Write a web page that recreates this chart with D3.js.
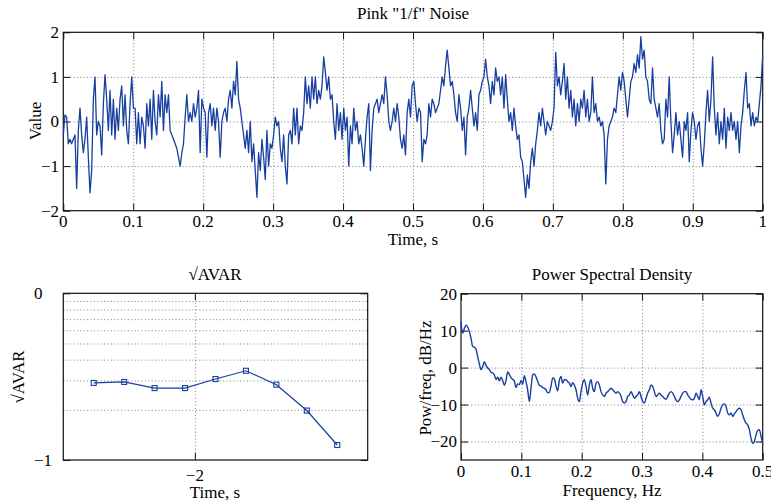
<!DOCTYPE html>
<html>
<head>
<meta charset="utf-8">
<script src="https://cdn.jsdelivr.net/npm/d3@7"></script>
<style>
  body { margin: 0; background: #fff; }
  svg text { font-family: "Liberation Serif", "Times New Roman", serif; font-size: 17px; fill: #000; }
  .grid line { stroke: #707070; stroke-width: 0.9; stroke-dasharray: 1,2.4; }
  .grid path, .ticks path { display: none; }
  .ticks line { stroke: #111; stroke-width: 1; }
</style>
</head>
<body>
<svg id="fig" width="771" height="503"></svg>
<script>
// Pink noise samples (uniform time step over 0..1 s)
const noiseValues = [
  -0.3, 0.15, 0.1, -0.5, -0.4, -0.5, -0.4, -0.3, -1.5, -0.2,
  0.3, -0.3, -0.7, -0.4, 0.1, -0.8, -1.6, -1.1, 0.5, 1.0,
  -0.3, 0.0, -0.1, -0.75, 0.4, 1.05, 0.5, -0.2, 0.7, -0.3,
  0.5, -0.4, 0.3, -0.2, 0.5, 0.8, -0.1, 0.6, -0.2, -0.5,
  0.4, 1.0, 0.3, 0.3, -0.5, 0.2, -0.5, 0.1, -0.1, -0.6,
  0.4, -0.1, 0.5, -0.4, 0.7, 0.0, -0.3, 0.6, 0.1, 0.9,
  -0.2, 0.6, 0.2, 0.6, -0.2, -0.3, -0.4, -0.5, -0.6, -0.8,
  -1.0, -0.7, -0.5, 0.1, 0.6, 0.0, 0.2, 0.0, 0.4, 0.1, 0.3, 0.7,
  -0.7, 0.5, 0.3, 0.2, -0.8, 0.2, 0.4, -0.1, 0.3, -0.2,
  0.3, 0.0, -0.8, 0.0, 0.2, 0.3, 0.0, 0.5, 0.7, 0.3,
  0.9, 0.6, 1.35, 0.5, 0.3, 0.0, -0.3, -0.6, -0.2, -0.7,
  0.0, -0.9, -0.5, -1.1, -1.7, -0.7, -1.1, -0.4, -0.8, -1.3,
  -0.2, -1.0, -0.5, -0.6, -0.3, 0.1, -0.1, 0.0, -0.6, -0.9,
  -0.3, -1.0, -1.4, -0.3, -0.2, -0.5, 0.3, -0.3, 0.3, -0.5,
  -0.1, -0.2, 0.2, 1.0, 0.4, 0.8, 0.3, 1.0, 0.5, 1.0,
  0.4, 0.7, 0.5, 0.8, 1.45, 1.1, 0.7, 1.0, 0.5, 0.6,
  0.0, -0.4, 0.4, -0.2, 0.2, -0.4, 0.3, -0.2, 0.1, -1.0,
  -0.1, -0.5, 0.3, -0.2, 0.0, -0.5, -0.3, -0.6, -1.0, -0.4,
  0.1, 0.4, -1.1, -0.2, 0.3, 0.4, 0.5, 0.2, 0.4, 0.6, 0.4, 1.0,
  0.6, 0.0, -0.2, 0.0, 0.3, 0.0, 0.4, 0.1, -0.4, -0.6,
  -0.3, -0.75, 0.2, 0.5, 0.1, 0.8, 0.9, 0.4, 0.0, 0.3,
  0.2, -0.9, -0.4, -0.5, -0.3, 0.4, 0.1, 0.5, 0.4, 0.2,
  0.3, 0.4, 0.7, 1.0, 0.8, 1.25, 1.6, 1.2, 0.8, 0.9,
  0.6, 0.2, 0.0, 0.6, 0.3, -0.2, 0.1, -0.75, 0.1, 0.3,
  0.7, 0.3, -0.1, 0.2, -0.2, 0.6, 0.7, 0.9, 1.0, 1.4,
  1.0, 0.8, 0.4, 0.9, 0.6, 1.2, 0.9, 1.0, 0.6, 1.0,
  0.3, 1.05, 0.5, 0.0, 0.2, -0.2, 0.3, -0.1, -0.4, -0.3,
  -0.8, -0.9, -1.3, -1.7, -1.2, -1.5, -0.9, -0.6, -1.0, -0.5,
  -0.2, 0.2, -0.1, 0.3, 0.0, -0.3, 0.0, -0.1, -0.2, 0.0,
  0.3, 1.55, 0.8, 1.0, 0.6, 0.9, 1.3, 0.5, 1.0, 0.3,
  0.7, 0.1, 0.5, -0.1, 0.4, 0.0, 0.5, 0.3, 0.7, 0.1,
  0.5, 0.0, 0.2, 1.0, 0.2, 0.4, 0.0, 0.1, -0.1, 0.0,
  -0.3, -1.4, -0.4, -0.1, 0.0, 0.1, 0.3, 0.2, 0.6, 1.0,
  0.7, 1.1, 0.9, 0.5, 0.1, 0.5, 0.9, 1.0, 1.3, 1.1,
  1.5, 1.2, 1.9, 1.4, 1.6, 1.0, 0.9, 0.5, 0.4, 1.2,
  0.5, 0.3, 0.1, 0.4, -0.2, -0.5, -0.4, 0.5, 0.1, 1.0,
  0.0, -0.7, -0.3, 0.2, -0.3, 0.0, -0.4, -0.8, 0.0, -0.2,
  0.2, -0.9, -0.2, 0.2, 0.0, -0.4, -0.1, 0.0, -0.6, -1.0,
  -0.5, 0.2, 0.7, 0.0, 0.5, 1.45, 0.3, -0.3, 0.2, -0.5,
  0.0, -0.4, 0.3, -0.6, 0.1, -0.2, 0.2, -0.2, 0.0, -0.4,
  0.0, -0.7, -0.1, 0.2, 0.7, 1.1, 0.3, 0.4, -0.1, 0.2,
  -0.1, 0.1, 0.0, 0.4, 0.8, 1.5
];

// sqrt(Allan variance) against averaging time
const avarTau = [0.001, 0.002, 0.004, 0.008, 0.016, 0.032, 0.064, 0.128, 0.256];
const avarValues = [0.290, 0.294, 0.270, 0.270, 0.306, 0.343, 0.283, 0.198, 0.123];

// PSD in dB/Hz, uniform frequency step over 0..0.5 Hz
const psdValues = [
  12.4, 9.3, 10.6, 11.5, 11.0, 9.8, 8.0, 5.7, 5.5, 5.0,
  3.0, 1.0, -0.5, 0.2, 1.6, 0.6, -0.1, -0.5, -1.3, -1.4,
  -2.0, -3.2, -2.6, -3.6, -2.6, -3.5, -4.8, -3.5, -1.2, -1.8,
  -2.7, -3.2, -3.6, -5.4, -4.4, -4.6, -3.5, -4.5, -2.2, -3.8,
  -6.0, -9.2, -5.5, -2.0, -1.7, -2.5, -3.7, -4.8, -5.0, -5.4,
  -5.6, -6.0, -6.8, -6.7, -5.0, -2.8, -3.0, -5.0, -6.3, -3.5,
  -2.4, -4.2, -3.3, -3.3, -3.8, -4.2, -5.1, -4.1, -4.7, -6.0,
  -8.3, -9.2, -6.5, -4.2, -3.3, -5.1, -7.4, -4.7, -3.3, -5.6,
  -6.5, -4.2, -3.8, -4.7, -6.5, -7.4, -7.8, -6.9, -6.5, -6.0,
  -5.6, -6.0, -6.5, -6.9, -6.5, -6.9, -7.7, -9.2, -9.6, -9.2,
  -7.8, -7.4, -6.5, -7.4, -8.3, -7.8, -7.4, -6.5, -7.8, -9.2,
  -9.6, -8.3, -6.9, -6.0, -4.7, -5.1, -6.5, -7.8, -7.4, -6.9,
  -7.4, -7.8, -8.3, -8.6, -7.8, -6.9, -6.5, -6.9, -7.8, -8.7,
  -9.2, -8.7, -7.8, -6.9, -6.5, -6.5, -7.4, -8.0, -8.6, -8.7,
  -8.3, -6.9, -7.8, -8.7, -6.0, -7.8, -10.1, -9.2, -8.7, -8.0,
  -9.6, -11.0, -11.4, -12.3, -13.2, -12.5, -11.0, -10.1, -9.8, -10.5,
  -12.3, -12.8, -12.3, -13.2, -12.5, -11.9, -11.3, -11.0, -11.4, -12.8,
  -14.1, -15.0, -15.5, -16.8, -19.1, -20.5, -20.0, -18.2, -17.0, -16.8,
  -18.6, -20.5
];

const noiseXTicks = [0, 0.1, 0.2, 0.3, 0.4, 0.5, 0.6, 0.7, 0.8, 0.9, 1];
const noiseYTicks = [-2, -1, 0, 1, 2];
const psdXTicks = [0, 0.1, 0.2, 0.3, 0.4, 0.5];
const psdYTicks = [-20, -10, 0, 10, 20];
const avarYMajor = [0.1, 1];
const avarYMinor = [0.2, 0.3, 0.4, 0.5, 0.6, 0.7, 0.8, 0.9];
const avarXMajor = [0.01];

const svg = d3.select("#fig");
const blue = "#173f9f";
const minus = s => String(s).replace("-", "\u2212");
const tickLen = 7;

// grid + inward ticks on all four sides + box
function frame(xs, ys, xTicks, yTicks, xGrid, yGrid) {
  const [x0, x1] = xs.range();
  const [y0, y1] = ys.range();
  const g = svg.append("g");
  g.append("g").attr("class", "grid").attr("transform", `translate(0,${y0})`)
    .call(d3.axisBottom(xs).tickValues(xGrid).tickSize(-(y0 - y1)).tickFormat(""));
  g.append("g").attr("class", "grid").attr("transform", `translate(${x0},0)`)
    .call(d3.axisLeft(ys).tickValues(yGrid).tickSize(-(x1 - x0)).tickFormat(""));
  g.append("g").attr("class", "ticks").attr("transform", `translate(0,${y0})`)
    .call(d3.axisBottom(xs).tickValues(xTicks).tickSize(-tickLen).tickFormat(""));
  g.append("g").attr("class", "ticks").attr("transform", `translate(0,${y1})`)
    .call(d3.axisTop(xs).tickValues(xTicks).tickSize(-tickLen).tickFormat(""));
  g.append("g").attr("class", "ticks").attr("transform", `translate(${x0},0)`)
    .call(d3.axisLeft(ys).tickValues(yTicks).tickSize(-tickLen).tickFormat(""));
  g.append("g").attr("class", "ticks").attr("transform", `translate(${x1},0)`)
    .call(d3.axisRight(ys).tickValues(yTicks).tickSize(-tickLen).tickFormat(""));
  g.append("rect").attr("x", x0).attr("y", y1).attr("width", x1 - x0).attr("height", y0 - y1)
    .attr("fill", "none").attr("stroke", "#111").attr("stroke-width", 1.2);
  return g;
}

function labelsX(xs, y, ticks, fmt) {
  svg.append("g").selectAll("text").data(ticks).join("text")
    .attr("x", d => xs(d)).attr("y", y).attr("text-anchor", "middle").text(fmt);
}
function labelsY(ys, x, ticks, fmt, anchor) {
  svg.append("g").selectAll("text").data(ticks).join("text")
    .attr("x", x).attr("y", d => ys(d)).attr("dy", "0.35em")
    .attr("text-anchor", anchor || "end").text(fmt);
}
function text(x, y, s, rotate) {
  const t = svg.append("text").attr("text-anchor", "middle").text(s);
  if (rotate) t.attr("transform", `translate(${x},${y}) rotate(-90)`);
  else t.attr("x", x).attr("y", y);
}

// ---- Pink noise time series ----
const x1 = d3.scaleLinear().domain([0, 1]).range([63.3, 762.7]);
const y1 = d3.scaleLinear().domain([-2, 2]).range([210.7, 32.3]);
frame(x1, y1, noiseXTicks, noiseYTicks, noiseXTicks.slice(1, -1), noiseYTicks.slice(1, -1));
svg.append("path")
  .datum(noiseValues)
  .attr("fill", "none").attr("stroke", blue).attr("stroke-width", 1.3)
  .attr("stroke-linejoin", "round")
  .attr("d", d3.line().x((d, i) => x1(i / (noiseValues.length - 1))).y(d => y1(d)));
labelsX(x1, 227, noiseXTicks, d => String(d));
labelsY(y1, 59, noiseYTicks, minus);
text(413, 19, "Pink \"1/f\" Noise");
text(413, 245, "Time, s");
text(41, 121, "Value", true);

// ---- sqrt(AVAR) on log-log axes ----
const x2 = d3.scaleLog().domain([0.0005, 0.512]).range([63.3, 367.7]);
const y2 = d3.scaleLog().domain([0.1, 1]).range([460, 293.3]);
frame(x2, y2, avarXMajor, avarYMajor, avarXMajor, avarYMinor);
svg.append("path")
  .datum(avarValues)
  .attr("fill", "none").attr("stroke", blue).attr("stroke-width", 1.2)
  .attr("d", d3.line().x((d, i) => x2(avarTau[i])).y(d => y2(d)));
svg.append("g").selectAll("rect").data(avarValues).join("rect")
  .attr("x", (d, i) => x2(avarTau[i]) - 2.5).attr("y", d => y2(d) - 2.5)
  .attr("width", 5).attr("height", 5)
  .attr("fill", "none").attr("stroke", blue).attr("stroke-width", 1.1);
labelsY(y2, 34, avarYMajor, d => minus(Math.round(Math.log10(d))), "start");
labelsX(x2, 481, avarXMajor, d => minus(Math.round(Math.log10(d))));
text(215, 280, "\u221AAVAR");
text(215, 498, "Time, s");
text(24, 377, "\u221AAVAR", true);

// ---- Power spectral density ----
const x3 = d3.scaleLinear().domain([0, 0.5]).range([461, 762.7]);
const y3 = d3.scaleLinear().domain([-25, 20]).range([460, 293.7]);
frame(x3, y3, psdXTicks, psdYTicks, psdXTicks.slice(1, -1), psdYTicks.slice(0, -1));
svg.append("path")
  .datum(psdValues)
  .attr("fill", "none").attr("stroke", blue).attr("stroke-width", 1.4)
  .attr("stroke-linejoin", "round")
  .attr("d", d3.line().curve(d3.curveMonotoneX).x((d, i) => x3(0.5 * i / (psdValues.length - 1))).y(d => y3(d)));
labelsX(x3, 477, psdXTicks, d => String(d));
labelsY(y3, 457, psdYTicks, minus);
text(612, 280, "Power Spectral Density");
text(612, 496, "Frequency, Hz");
text(431, 378, "Pow/freq, dB/Hz", true);
</script>
</body>
</html>
